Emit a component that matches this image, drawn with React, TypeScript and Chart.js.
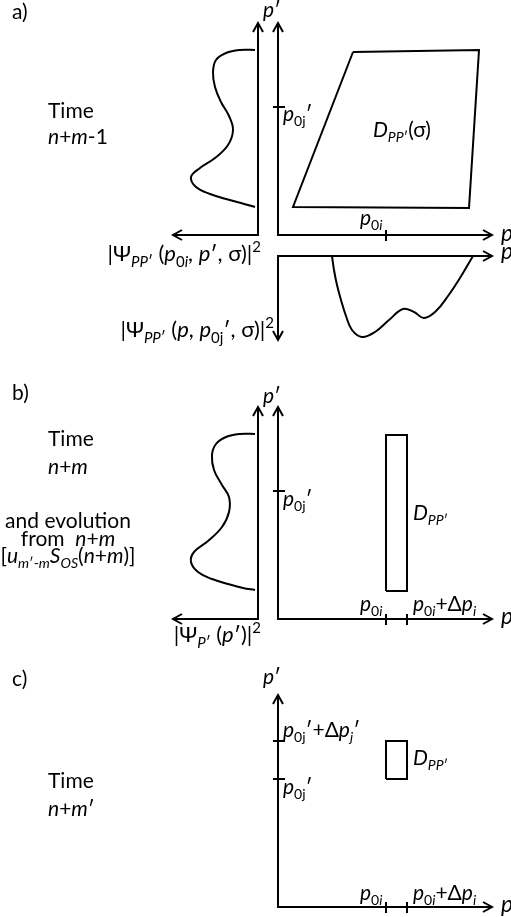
import React, { useEffect, useRef } from "react";
import { Chart, registerables } from "chart.js";
Chart.register(...registerables);

const W = 511;
const H = 917;
const FONT = "Lato, 'Open Sans', 'DejaVu Sans', sans-serif";
const BASE_SIZE = 21;
const LINE_W = 2;
const AH_LEN = 9;
const AH_W = 5;

// ---------- panel layout (origins of the p / p′ axes, diagram units) ----------
const ORIGIN_A = { x: 278, y: 235 };
const ORIGIN_A_LOW = { x: 278, y: 256 };
const ORIGIN_B = { x: 278, y: 619 };
const ORIGIN_C = { x: 278, y: 907 };
const PSI_GAP = 20; // |Ψ|² axis sits this far left of the p′ axis
const P_AXIS_LEN = 214;
const PP_AXIS_LEN = 212;
const PSI_AXIS_LEN = 85;
const PSI_DOWN_LEN = 84;

// ---------- data ----------
// panel a: |Ψ_PP′(p0i, p′, σ)|² plotted leftwards against p′
const waveA_psi = [3, 18, 32, 42, 45, 43, 37, 29, 25, 30, 43, 58, 67, 62, 48, 32, 17, 3];
const waveA_pp = [185, 185, 182, 175, 163, 148, 133, 119, 105, 90, 77, 67, 58, 48, 41, 36, 32, 28];
// panel a (lower): |Ψ_PP′(p, p0j′, σ)|² plotted downwards against p
const waveAlow_p = [54, 56, 59, 63, 68, 74, 84, 97, 111, 125, 136, 146, 158, 170, 182, 195];
const waveAlow_psi = [0, 14, 29, 44, 60, 74, 81, 76, 64, 53, 56, 62, 55, 40, 22, 0];
// panel a: domain D_PP′(σ) corners [p, p′]
const domainA_p = [75, 201, 191, 15, 75];
const domainA_pp = [183, 185, 27, 28, 183];
// panel b: |Ψ_P′(p′)|²
const waveB_psi = [3, 18, 32, 42, 46, 44, 36, 29, 29, 36, 50, 64, 67, 60, 46, 30, 15, 3];
const waveB_pp = [185, 185, 182, 175, 164, 149, 134, 122, 107, 92, 78, 67, 57, 47, 40, 35, 31, 29];
// panel b / c: rectangular domains D_PP′ [p range, p′ range]
const domainB_p = [108, 129];
const domainB_pp = [28, 184];
const domainC_p = [108, 129];
const domainC_pp = [128, 166];
// tick positions
const ticksA_p = [108];
const ticksA_pp = [128];
const ticksB_p = [108, 129];
const ticksB_pp = [128];
const ticksC_p = [108, 129];
const ticksC_pp = [128, 166];

// ---------- text (baseline anchored; *italic*, _{sub}, ^{sup}) ----------
type Label = { t: string; x: number; y: number; s?: number; align?: "left" | "center" | "right" };
const LABELS: Label[] = [
  { t: "a)", x: 12, y: 19 },
  { t: "Time", x: 48, y: 118 },
  { t: "*n*+*m*-1", x: 48, y: 144 },
  { t: "*p*′", x: 263, y: 17 },
  { t: "*p*_{0j}′", x: 283, y: 121 },
  { t: "*D*_{*PP*′}(σ)", x: 373, y: 137 },
  { t: "*p*_{0*i*}", x: 360, y: 225 },
  { t: "*p*", x: 501, y: 241, s: 23 },
  { t: "|Ψ_{*PP*′} (*p*_{0*i*}, *p*′, σ)|^{2}", x: 261, y: 261, s: 22, align: "right" },
  { t: "*p*", x: 501, y: 259, s: 23 },
  { t: "|Ψ_{*PP*′} (*p*, *p*_{0j}′, σ)|^{2}", x: 274, y: 337, s: 22, align: "right" },

  { t: "b)", x: 12, y: 400 },
  { t: "*p*′", x: 263, y: 403 },
  { t: "Time", x: 48, y: 446 },
  { t: "*n*+*m*", x: 48, y: 474 },
  { t: "and evolution", x: 68, y: 528, align: "center" },
  { t: "from  *n*+*m*", x: 68, y: 546, align: "center" },
  { t: "[*u*_{*m*′-*m*}*S*_{*OS*}(*n*+*m*)]", x: 68, y: 563, align: "center" },
  { t: "*p*_{0j}′", x: 283, y: 506 },
  { t: "*D*_{*PP*′}", x: 413, y: 520 },
  { t: "*p*_{0*i*}", x: 360, y: 611 },
  { t: "*p*_{0*i*}+Δ*p*_{*i*}", x: 413, y: 611 },
  { t: "*p*", x: 501, y: 624, s: 23 },
  { t: "|Ψ_{*P*′} (*p*′)|^{2}", x: 261, y: 642, s: 22, align: "right" },

  { t: "c)", x: 12, y: 686 },
  { t: "*p*′", x: 263, y: 684 },
  { t: "Time", x: 48, y: 788 },
  { t: "*n*+*m*′", x: 48, y: 816 },
  { t: "*p*_{0j}′+Δ*p*_{*j*}′", x: 283, y: 737 },
  { t: "*p*_{0j}′", x: 283, y: 794 },
  { t: "*D*_{*PP*′}", x: 413, y: 765 },
  { t: "*p*_{0*i*}", x: 360, y: 900 },
  { t: "*p*_{0*i*}+Δ*p*_{*i*}", x: 413, y: 900 },
  { t: "*p*", x: 501, y: 912, s: 23 },
];

type Run = { text: string; italic: boolean; level: number };
function parseRich(s: string): Run[] {
  const runs: Run[] = [];
  let italic = false;
  const stack: number[] = [0];
  let buf = "";
  const flush = () => {
    if (buf) {
      runs.push({ text: buf, italic, level: stack[stack.length - 1] });
      buf = "";
    }
  };
  for (let i = 0; i < s.length; i++) {
    const c = s[i];
    if (c === "*") {
      flush();
      italic = !italic;
    } else if ((c === "_" || c === "^") && s[i + 1] === "{") {
      flush();
      stack.push(c === "_" ? -1 : 1);
      i++;
    } else if (c === "}") {
      flush();
      stack.pop();
    } else buf += c;
  }
  flush();
  return runs;
}

const fontFor = (r: Run, size: number) =>
  `${r.italic ? "italic " : ""}${r.level === 0 ? size : Math.round(size * 0.68)}px ${FONT}`;

const textPlugin = {
  id: "richText",
  afterDatasetsDraw(chart: any) {
    const { ctx, scales } = chart;
    ctx.save();
    ctx.fillStyle = "#000";
    ctx.textBaseline = "alphabetic";
    for (const L of LABELS) {
      const size = L.s ?? BASE_SIZE;
      const runs = parseRich(L.t);
      let total = 0;
      const widths = runs.map((r) => {
        ctx.font = fontFor(r, size);
        const w = ctx.measureText(r.text).width;
        total += w;
        return w;
      });
      let x = scales.x.getPixelForValue(L.x);
      const y = scales.y.getPixelForValue(L.y);
      if (L.align === "center") x -= total / 2;
      else if (L.align === "right") x -= total;
      runs.forEach((r, i) => {
        ctx.font = fontFor(r, size);
        const dy = r.level < 0 ? size * 0.25 : r.level > 0 ? -size * 0.42 : 0;
        ctx.fillText(r.text, x, y + dy);
        x += widths[i];
      });
    }
    ctx.restore();
  },
};

type Pt = { x: number; y: number };

function buildDatasets() {
  const ds: any[] = [];
  const add = (pts: Pt[], tension = 0) =>
    ds.push({
      data: pts,
      borderColor: "#000",
      borderWidth: LINE_W,
      pointRadius: 0,
      fill: false,
      tension,
      borderJoinStyle: tension ? "round" : "miter",
      borderCapStyle: "butt",
    });
  const arrow = (tip: Pt, dx: number, dy: number) => {
    const bx = tip.x - dx * AH_LEN;
    const by = tip.y - dy * AH_LEN;
    const px = -dy * AH_W;
    const py = dx * AH_W;
    add([{ x: bx + px, y: by + py }, tip, { x: bx - px, y: by - py }]);
  };
  const pp = (o: Pt, p: number, ppr: number): Pt => ({ x: o.x + p, y: o.y - ppr });

  // main p / p′ axes
  for (const o of [ORIGIN_A, ORIGIN_B, ORIGIN_C]) {
    const top = pp(o, 0, PP_AXIS_LEN);
    const right = pp(o, P_AXIS_LEN, 0);
    add([top, { x: o.x, y: o.y }, right]);
    arrow(top, 0, -1);
    arrow(right, 1, 0);
  }
  // |Ψ|² axes for panels a and b (vertical up + horizontal leftwards)
  for (const o of [ORIGIN_A, ORIGIN_B]) {
    const ax = o.x - PSI_GAP;
    const top = { x: ax, y: o.y - PP_AXIS_LEN };
    const left = { x: ax - PSI_AXIS_LEN, y: o.y };
    add([top, { x: ax, y: o.y }, left]);
    arrow(top, 0, -1);
    arrow(left, -1, 0);
  }
  // lower mini plot of panel a
  {
    const o = ORIGIN_A_LOW;
    const right = { x: o.x + P_AXIS_LEN, y: o.y };
    const down = { x: o.x, y: o.y + PSI_DOWN_LEN };
    add([down, { x: o.x, y: o.y }, right]);
    arrow(right, 1, 0);
    arrow(down, 0, 1);
    add(waveAlow_p.map((p, i) => ({ x: o.x + p, y: o.y + waveAlow_psi[i] })), 0.4);
  }
  // wave curves on the left
  add(waveA_psi.map((v, i) => ({ x: ORIGIN_A.x - PSI_GAP - v, y: ORIGIN_A.y - waveA_pp[i] })), 0.4);
  add(waveB_psi.map((v, i) => ({ x: ORIGIN_B.x - PSI_GAP - v, y: ORIGIN_B.y - waveB_pp[i] })), 0.4);

  // domains
  add(domainA_p.map((p, i) => pp(ORIGIN_A, p, domainA_pp[i])));
  const rect = (o: Pt, pr: number[], ppr: number[]) =>
    add([pp(o, pr[0], ppr[0]), pp(o, pr[1], ppr[0]), pp(o, pr[1], ppr[1]), pp(o, pr[0], ppr[1]), pp(o, pr[0], ppr[0])]);
  rect(ORIGIN_B, domainB_p, domainB_pp);
  rect(ORIGIN_C, domainC_p, domainC_pp);

  // ticks
  const ticks = (o: Pt, tp: number[], tpp: number[]) => {
    tp.forEach((p) => add([pp(o, p, 5), pp(o, p, -6)]));
    tpp.forEach((v) => add([pp(o, -5, v), pp(o, 7, v)]));
  };
  ticks(ORIGIN_A, ticksA_p, ticksA_pp);
  ticks(ORIGIN_B, ticksB_p, ticksB_pp);
  ticks(ORIGIN_C, ticksC_p, ticksC_pp);
  return ds;
}

export default function App() {
  const ref = useRef<HTMLCanvasElement>(null);
  useEffect(() => {
    document.body.style.margin = "0";
    const chart = new Chart(ref.current as HTMLCanvasElement, {
      type: "line",
      data: { datasets: buildDatasets() },
      options: {
        responsive: false,
        animation: false,
        devicePixelRatio: 1,
        events: [],
        layout: { padding: 0 },
        scales: {
          x: { type: "linear", min: 0, max: W, display: false },
          y: { type: "linear", min: 0, max: H, reverse: true, display: false },
        },
        plugins: { legend: { display: false }, tooltip: { enabled: false } },
      },
      plugins: [textPlugin],
    } as any);
    return () => chart.destroy();
  }, []);
  return (
    <div style={{ position: "absolute", left: 0, top: 0, width: W, height: H, background: "#fff" }}>
      <canvas ref={ref} width={W} height={H} style={{ display: "block", width: W, height: H }} />
    </div>
  );
}
